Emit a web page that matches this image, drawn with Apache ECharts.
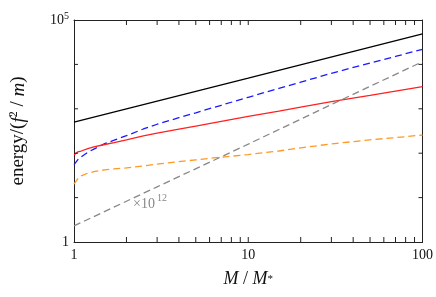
<!DOCTYPE html>
<html><head><meta charset="utf-8">
<script src="https://cdn.jsdelivr.net/npm/echarts@6/dist/echarts.min.js"></script>
<style>html,body{margin:0;padding:0;background:#fff}#c{width:436px;height:297px}</style>
</head><body><div id="c"></div>
<script>
// Data (log-log plot)
const curveX = [1, 1.05, 1.1, 1.2, 1.3, 1.5, 1.7, 2, 2.5, 3, 4, 5, 7, 10, 15, 20, 30, 50, 70, 100];
const blueY   = [55, 71, 83, 105, 124, 164, 196, 248, 351, 449, 631, 813, 1202, 1820, 2884, 3981, 6310, 10715, 15136, 21878];
const redY    = [91, 107, 112, 127, 138, 157, 174, 200, 245, 282, 347, 407, 521, 676, 891, 1096, 1445, 1995, 2512, 3162];
const orangeY = [20, 26.3, 30.9, 35.5, 38.3, 42.2, 44.2, 46.8, 51.3, 56.9, 64.6, 70.8, 81.3, 93.3, 112, 132, 162, 200, 224, 257];
const blackX = [1, 10, 100];
const blackY = [500, 4900, 49000];
const grayX = [1, 3, 10, 30, 100];
const grayY = [2.3, 17.5, 160, 1250, 11500];
const xTicks = [2,3,4,5,6,7,8,9,10,20,30,40,50,60,70,80,90];
const xLabels = [1, 10, 100];
const yTicks = [10, 100, 1000, 10000];
const yLabels = [1, 100000];

const pairs = (xs, ys) => xs.map((x, i) => [x, ys[i]]);
const FONT = 'Liberation Serif';
const AX = '#222';

const chart = echarts.init(document.getElementById('c'));
const xBase = {
  type: 'log', logBase: 10, min: 1, max: 100,
  axisLine: {show: true, onZero: false, lineStyle: {color: AX, width: 1}},
  splitLine: {show: false}, minorTick: {show: false}, axisTick: {show: false}
};
const yBase = {
  type: 'log', logBase: 10, min: 1, max: 100000,
  axisLine: {show: true, onZero: false, lineStyle: {color: AX, width: 1}},
  splitLine: {show: false}, minorTick: {show: false}, axisTick: {show: false}
};
const lineS = (data, color, type) => ({
  type: 'line', data, showSymbol: false, symbol: 'none',
  lineStyle: {color, width: 1.3, type}, z: 3, animation: false
});
// tick marks drawn through the axis scales
const tickSeries = (vals, isX, len) => ({
  type: 'custom', coordinateSystem: 'cartesian2d', silent: true, z: 5,
  data: vals.map(v => isX ? [v, 1] : [1, v]),
  renderItem: (params, api) => {
    const v = api.value(isX ? 0 : 1);
    const ls = {stroke: AX, lineWidth: 1};
    if (isX) {
      const a = api.coord([v, 1]), b = api.coord([v, 100000]);
      return {type: 'group', children: [
        {type: 'line', shape: {x1: a[0], y1: a[1], x2: a[0], y2: a[1] - len}, style: ls},
        {type: 'line', shape: {x1: b[0], y1: b[1], x2: b[0], y2: b[1] + len}, style: ls}
      ]};
    } else {
      const a = api.coord([1, v]), b = api.coord([100, v]);
      return {type: 'group', children: [
        {type: 'line', shape: {x1: a[0], y1: a[1], x2: a[0] + len, y2: a[1]}, style: ls},
        {type: 'line', shape: {x1: b[0], y1: b[1], x2: b[0] - len, y2: b[1]}, style: ls}
      ]};
    }
  }
});
chart.setOption({
  animation: false,
  grid: {left: 65, top: 20, right: 12, bottom: 55, containLabel: false},
  xAxis: [
    Object.assign({}, xBase, {
      position: 'bottom',
      axisLabel: {show: true, customValues: xLabels, color: '#111', fontFamily: FONT, fontSize: 14, margin: 6},
      name: '{i|M} / {i|M}{sub|*}', nameLocation: 'middle', nameGap: 28,
      nameTextStyle: {color: '#111', fontFamily: FONT, fontSize: 18,
        rich: {i: {fontStyle: 'italic', fontFamily: FONT, fontSize: 18, color: '#111'},
               sub: {fontFamily: FONT, fontSize: 11, color: '#111'}}}
    }),
    Object.assign({}, xBase, {position: 'top', axisLabel: {show: false}})
  ],
  yAxis: [
    Object.assign({}, yBase, {
      position: 'left',
      axisLabel: {show: true, customValues: yLabels, color: '#111', fontFamily: FONT, fontSize: 14, margin: 5,
        formatter: v => v === 1 ? '1' : '10{sup|5}',
        rich: {sup: {fontFamily: FONT, fontSize: 10, color: '#111', padding: [0,0,8,0]}}},
      name: 'energy/({i|f}{sup|2} / {i|m})', nameLocation: 'middle', nameGap: 45, nameRotate: 90,
      nameTextStyle: {color: '#111', fontFamily: FONT, fontSize: 19,
        rich: {i: {fontStyle: 'italic', fontFamily: FONT, fontSize: 19, color: '#111'},
               sup: {fontFamily: FONT, fontSize: 12, color: '#111', padding: [0,0,9,0]}}}
    }),
    Object.assign({}, yBase, {position: 'right', axisLabel: {show: false}})
  ],
  series: [
    lineS(pairs(blackX, blackY), '#000000', 'solid'),
    lineS(pairs(curveX, blueY), '#1a1aff', [7, 4]),
    lineS(pairs(curveX, redY), '#ff2020', 'solid'),
    lineS(pairs(curveX, orangeY), '#ff9922', [7, 4]),
    lineS(pairs(grayX, grayY), '#888888', [7, 4]),
    tickSeries(xTicks, true, 5),
    tickSeries(yTicks, false, 4)
  ],
  graphic: [
    {type: 'text', left: 133, top: 197, style: {text: '×10', fill: '#888', font: '14px "Liberation Serif"'}},
    {type: 'text', left: 157, top: 193, style: {text: '12', fill: '#888', font: '10px "Liberation Serif"'}}
  ]
});
</script></body></html>
